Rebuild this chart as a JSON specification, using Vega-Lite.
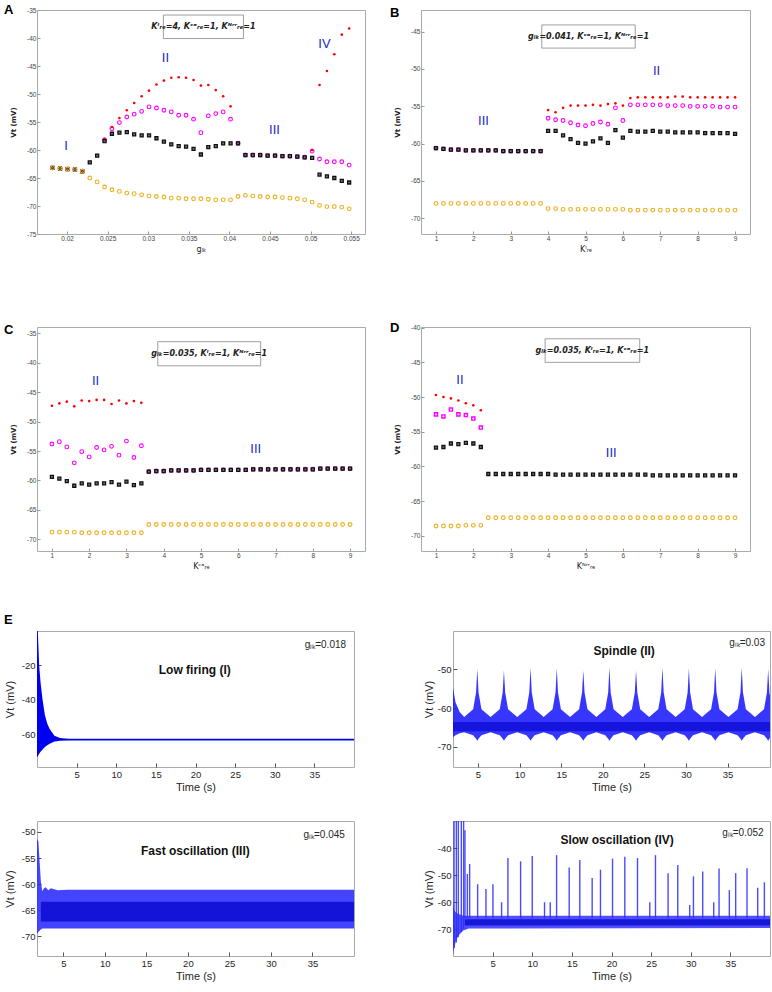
{
"$schema": "https://vega.github.io/schema/vega-lite/v6.json",
"padding": {"left": 3, "top": 3, "right": 0, "bottom": 0},
"background": "white",
"config": {
  "view": {"stroke": "#aaaaaa", "strokeWidth": 1},
  "axis": {"grid": false, "domain": false, "tickSize": -3, "tickColor": "#999999", "labelFont": "Liberation Sans", "labelFontSize": 6.5, "labelColor": "#444444", "labelPadding": 4, "labelFlush": false, "labelOverlap": false, "titleFont": "DejaVu Sans", "titleFontSize": 7, "titleFontWeight": "bold", "titleColor": "#222222", "titlePadding": 10, "labelExpr": "replace(datum.label, '−', '-')"},
  "title": {"anchor": "start", "frame": "group", "font": "Liberation Sans", "fontSize": 13, "fontWeight": "bold", "color": "#000000", "baseline": "bottom", "offset": -10},
  "text": {"font": "Liberation Sans"}
},
"spacing": 621,
"bounds": "flush",
"vconcat": [
 {"spacing": 317, "bounds": "flush", "vconcat": [
  {"spacing": 56, "bounds": "flush", "hconcat": [
   {"width": 328, "height": 224,
    "title": {"text": "A", "dx": -33},
    "encoding": {
      "x": {"field": "x", "type": "quantitative", "scale": {"domain": [0.0163, 0.0567], "nice": false, "zero": false}, "axis": {"title": "gₗₖ", "values": [0.02, 0.025, 0.03, 0.035, 0.04, 0.045, 0.05, 0.055], "format": "~g", "titleFontWeight": "normal", "titleFontSize": 8, "titlePadding": 4}},
      "y": {"field": "y", "type": "quantitative", "scale": {"domain": [-75, -35], "nice": false, "zero": false}, "axis": {"title": "Vt (mV)", "values": [-75, -70, -65, -60, -55, -50, -45, -40, -35]}}
    },
    "layer": [
     {"data": {"values": [{"x": 0.03187, "x2": 0.04173, "y": -35.9, "y2": -40.1}]}, "mark": {"type": "rect", "fill": "white", "stroke": "#888888", "strokeWidth": 0.8}, "encoding": {"x2": {"field": "x2"}, "y2": {"field": "y2"}}},
     {"data": {"values": [{"x": 0.0368, "y": -38.0, "label": "Kᴵᵣₑ=4, Kᶜᵃᵣₑ=1, Kᴺʳʳᵣₑ=1"}]}, "mark": {"type": "text", "font": "DejaVu Sans", "fontStyle": "italic", "fontWeight": "bold", "fontSize": 8, "color": "#222222"}, "encoding": {"text": {"field": "label"}}},
     {"data": {"values": [
       {"x": 0.01823, "max": -63.2, "mid": -63.2, "low": -63.2, "min": -63.2},
       {"x": 0.01914, "max": -63.3, "mid": -63.3, "low": -63.3, "min": -63.3},
       {"x": 0.02006, "max": -63.4, "mid": -63.4, "low": -63.4, "min": -63.4},
       {"x": 0.02097, "max": -63.5, "mid": -63.5, "low": -63.5, "min": -63.5},
       {"x": 0.02188, "max": -63.8, "mid": -63.8, "low": -63.8, "min": -63.8},
       {"x": 0.0228, "max": -62.2, "low": -62.2, "min": -65.0},
       {"x": 0.02371, "max": -61.0, "low": -61.0, "min": -65.7},
       {"x": 0.02462, "max": -58.0, "mid": -58.2, "low": -58.4, "min": -66.6},
       {"x": 0.02553, "max": -55.9, "mid": -56.2, "low": -57.1, "min": -67.1},
       {"x": 0.02645, "max": -54.3, "mid": -55.1, "low": -56.9, "min": -67.4},
       {"x": 0.02736, "max": -52.9, "mid": -54.1, "low": -56.8, "min": -67.7},
       {"x": 0.02827, "max": -51.6, "mid": -53.6, "low": -57.2, "min": -67.8},
       {"x": 0.02919, "max": -50.4, "mid": -53.1, "low": -57.4, "min": -68.0},
       {"x": 0.0301, "max": -49.4, "mid": -52.3, "low": -57.4, "min": -68.2},
       {"x": 0.03101, "max": -48.3, "mid": -52.5, "low": -57.9, "min": -68.3},
       {"x": 0.03193, "max": -47.6, "mid": -52.9, "low": -58.5, "min": -68.4},
       {"x": 0.03284, "max": -47.1, "mid": -53.2, "low": -59.0, "min": -68.6},
       {"x": 0.03375, "max": -47.0, "mid": -53.8, "low": -59.3, "min": -68.6},
       {"x": 0.03466, "max": -47.1, "mid": -53.8, "low": -59.4, "min": -68.7},
       {"x": 0.03558, "max": -47.5, "mid": -54.5, "low": -59.8, "min": -68.7},
       {"x": 0.03649, "max": -48.5, "mid": -56.9, "low": -60.8, "min": -68.7},
       {"x": 0.0374, "max": -48.4, "mid": -53.9, "low": -59.5, "min": -68.8},
       {"x": 0.03832, "max": -49.3, "mid": -53.5, "low": -59.3, "min": -68.9},
       {"x": 0.03923, "max": -50.4, "mid": -53.2, "low": -58.8, "min": -68.9},
       {"x": 0.04014, "max": -52.2, "mid": -54.5, "low": -58.8, "min": -68.9},
       {"x": 0.04106, "max": -58.8, "mid": -58.8, "low": -58.8, "min": -68.3},
       {"x": 0.04197, "max": -60.9, "mid": -60.9, "low": -60.9, "min": -68.1},
       {"x": 0.04288, "max": -60.9, "mid": -60.9, "low": -60.9, "min": -68.2},
       {"x": 0.04379, "max": -60.9, "mid": -60.9, "low": -60.9, "min": -68.3},
       {"x": 0.04471, "max": -61.0, "mid": -61.0, "low": -61.0, "min": -68.4},
       {"x": 0.04562, "max": -61.0, "mid": -61.0, "low": -61.0, "min": -68.4},
       {"x": 0.04653, "max": -61.1, "mid": -61.1, "low": -61.1, "min": -68.5},
       {"x": 0.04745, "max": -61.1, "mid": -61.1, "low": -61.1, "min": -68.6},
       {"x": 0.04836, "max": -61.2, "mid": -61.2, "low": -61.2, "min": -68.7},
       {"x": 0.04927, "max": -61.3, "mid": -61.3, "low": -61.3, "min": -68.9},
       {"x": 0.05019, "max": -60.0, "mid": -60.2, "low": -61.4, "min": -69.3},
       {"x": 0.0511, "max": -48.4, "mid": -61.6, "low": -64.4, "min": -69.9},
       {"x": 0.05201, "max": -45.9, "mid": -62.1, "low": -64.7, "min": -70.1},
       {"x": 0.05292, "max": -42.9, "mid": -62.1, "low": -65.0, "min": -70.1},
       {"x": 0.05384, "max": -39.4, "mid": -62.1, "low": -65.5, "min": -70.2},
       {"x": 0.05475, "max": -38.3, "mid": -62.7, "low": -65.8, "min": -70.5}
      ]},
      "transform": [{"fold": ["mid", "msq", "max", "low", "min"], "as": ["k", "y"]}, {"filter": "isValid(datum.y)"}],
      "layer": [
       {"transform": [{"filter": "datum.k == 'mid'"}], "mark": {"type": "point", "shape": "circle", "size": 14, "filled": false, "color": "#ff00ff", "strokeWidth": 1.1, "opacity": 1}},
       {"transform": [{"filter": "datum.k == 'msq'"}], "mark": {"type": "point", "shape": "square", "size": 10, "filled": false, "color": "#ff00ff", "strokeWidth": 1.4, "opacity": 1}},
       {"transform": [{"filter": "datum.k == 'max'"}], "mark": {"type": "circle", "size": 7, "color": "#ff0000", "opacity": 1}},
       {"transform": [{"filter": "datum.k == 'low'"}], "mark": {"type": "square", "size": 9, "fill": "#777777", "stroke": "#111111", "strokeWidth": 1.3, "opacity": 1}},
       {"transform": [{"filter": "datum.k == 'min'"}], "mark": {"type": "point", "shape": "circle", "size": 14, "filled": false, "color": "#edb120", "strokeWidth": 1.1, "opacity": 1}}
      ]
     },
     {"data": {"values": [{"x": 0.01988, "y": -59.3, "label": "I"}, {"x": 0.03212, "y": -43.5, "label": "II"}, {"x": 0.04555, "y": -56.5, "label": "III"}, {"x": 0.05171, "y": -41.1, "label": "IV"}]}, "mark": {"type": "text", "fontSize": 13, "color": "#2424c8"}, "encoding": {"text": {"field": "label"}}}
    ]
   },
   {"width": 329, "height": 224,
    "title": {"text": "B", "dx": -31},
    "encoding": {
      "x": {"field": "x", "type": "quantitative", "scale": {"domain": [0.6, 9.4], "nice": false, "zero": false}, "axis": {"title": "Kᴵᵣₑ", "values": [1, 2, 3, 4, 5, 6, 7, 8, 9], "titleFontWeight": "normal", "titleFontSize": 8, "titlePadding": 4}},
      "y": {"field": "y", "type": "quantitative", "scale": {"domain": [-72.1, -42.1], "nice": false, "zero": false}, "axis": {"title": "Vt (mV)", "values": [-70, -65, -60, -55, -50, -45]}}
    },
    "layer": [
     {"data": {"values": [{"x": 3.83, "x2": 6.33, "y": -44.1, "y2": -47.2}]}, "mark": {"type": "rect", "fill": "white", "stroke": "#888888", "strokeWidth": 0.8}, "encoding": {"x2": {"field": "x2"}, "y2": {"field": "y2"}}},
     {"data": {"values": [{"x": 5.08, "y": -45.65, "label": "gₗₖ=0.041, Kᶜᵃᵣₑ=1, Kᴺʳʳᵣₑ=1"}]}, "mark": {"type": "text", "font": "DejaVu Sans", "fontStyle": "italic", "fontWeight": "bold", "fontSize": 8, "color": "#222222"}, "encoding": {"text": {"field": "label"}}},
     {"data": {"values": [
       {"x": 1.0, "max": -60.6, "mid": -60.6, "low": -60.6, "min": -68.0},
       {"x": 1.2, "max": -60.7, "mid": -60.7, "low": -60.7, "min": -68.0},
       {"x": 1.4, "max": -60.8, "mid": -60.8, "low": -60.8, "min": -68.0},
       {"x": 1.6, "max": -60.8, "mid": -60.8, "low": -60.8, "min": -68.0},
       {"x": 1.8, "max": -60.9, "mid": -60.9, "low": -60.9, "min": -68.0},
       {"x": 2.0, "max": -60.9, "mid": -60.9, "low": -60.9, "min": -68.0},
       {"x": 2.2, "max": -60.9, "mid": -60.9, "low": -60.9, "min": -68.0},
       {"x": 2.4, "max": -60.9, "mid": -60.9, "low": -60.9, "min": -68.0},
       {"x": 2.6, "max": -60.9, "mid": -60.9, "low": -60.9, "min": -68.0},
       {"x": 2.8, "max": -61.0, "mid": -61.0, "low": -61.0, "min": -68.0},
       {"x": 3.0, "max": -61.0, "mid": -61.0, "low": -61.0, "min": -68.0},
       {"x": 3.2, "max": -61.0, "mid": -61.0, "low": -61.0, "min": -68.0},
       {"x": 3.4, "max": -61.0, "mid": -61.0, "low": -61.0, "min": -68.0},
       {"x": 3.6, "max": -61.0, "mid": -61.0, "low": -61.0, "min": -68.0},
       {"x": 3.8, "max": -61.0, "mid": -61.0, "low": -61.0, "min": -68.0},
       {"x": 4.0, "max": -55.5, "mid": -56.6, "low": -58.3, "min": -68.7},
       {"x": 4.2, "max": -55.8, "mid": -56.8, "low": -58.3, "min": -68.7},
       {"x": 4.4, "max": -55.2, "mid": -56.9, "low": -58.9, "min": -68.8},
       {"x": 4.6, "max": -54.9, "mid": -57.2, "low": -59.4, "min": -68.8},
       {"x": 4.8, "max": -54.9, "mid": -57.5, "low": -59.9, "min": -68.8},
       {"x": 5.0, "max": -54.9, "mid": -57.6, "low": -60.0, "min": -68.8},
       {"x": 5.2, "max": -54.8, "mid": -57.3, "low": -59.7, "min": -68.8},
       {"x": 5.4, "max": -54.9, "mid": -57.1, "low": -59.3, "min": -68.8},
       {"x": 5.6, "max": -54.7, "mid": -57.4, "low": -59.9, "min": -68.8},
       {"x": 5.8, "max": -54.6, "mid": -55.2, "low": -58.2, "min": -68.8},
       {"x": 6.0, "max": -54.9, "mid": -56.9, "low": -59.2, "min": -68.8},
       {"x": 6.2, "max": -53.9, "mid": -54.8, "low": -58.3, "min": -68.9},
       {"x": 6.4, "max": -53.8, "mid": -54.8, "low": -58.4, "min": -68.9},
       {"x": 6.6, "max": -53.8, "mid": -54.8, "low": -58.4, "min": -68.9},
       {"x": 6.8, "max": -53.8, "mid": -54.8, "low": -58.3, "min": -68.9},
       {"x": 7.0, "max": -53.8, "mid": -54.8, "low": -58.4, "min": -68.9},
       {"x": 7.2, "max": -53.8, "mid": -54.9, "low": -58.4, "min": -68.9},
       {"x": 7.4, "max": -53.7, "mid": -54.9, "low": -58.5, "min": -68.9},
       {"x": 7.6, "max": -53.7, "mid": -54.9, "low": -58.5, "min": -68.9},
       {"x": 7.8, "max": -53.8, "mid": -55.0, "low": -58.5, "min": -68.9},
       {"x": 8.0, "max": -53.8, "mid": -55.0, "low": -58.5, "min": -68.9},
       {"x": 8.2, "max": -53.8, "mid": -55.0, "low": -58.6, "min": -68.9},
       {"x": 8.4, "max": -53.8, "mid": -55.0, "low": -58.6, "min": -68.9},
       {"x": 8.6, "max": -53.8, "mid": -55.1, "low": -58.6, "min": -68.9},
       {"x": 8.8, "max": -53.8, "mid": -55.1, "low": -58.6, "min": -68.9},
       {"x": 9.0, "max": -53.8, "mid": -55.1, "low": -58.7, "min": -68.9}
      ]},
      "transform": [{"fold": ["mid", "msq", "max", "low", "min"], "as": ["k", "y"]}, {"filter": "isValid(datum.y)"}],
      "layer": [
       {"transform": [{"filter": "datum.k == 'mid'"}], "mark": {"type": "point", "shape": "circle", "size": 14, "filled": false, "color": "#ff00ff", "strokeWidth": 1.1, "opacity": 1}},
       {"transform": [{"filter": "datum.k == 'msq'"}], "mark": {"type": "point", "shape": "square", "size": 10, "filled": false, "color": "#ff00ff", "strokeWidth": 1.4, "opacity": 1}},
       {"transform": [{"filter": "datum.k == 'max'"}], "mark": {"type": "circle", "size": 7, "color": "#ff0000", "opacity": 1}},
       {"transform": [{"filter": "datum.k == 'low'"}], "mark": {"type": "square", "size": 9, "fill": "#777777", "stroke": "#111111", "strokeWidth": 1.3, "opacity": 1}},
       {"transform": [{"filter": "datum.k == 'min'"}], "mark": {"type": "point", "shape": "circle", "size": 14, "filled": false, "color": "#edb120", "strokeWidth": 1.1, "opacity": 1}}
      ]
     },
     {"data": {"values": [{"x": 2.27, "y": -56.9, "label": "III"}, {"x": 6.9, "y": -50.3, "label": "II"}]}, "mark": {"type": "text", "fontSize": 13, "color": "#2424c8"}, "encoding": {"text": {"field": "label"}}}
    ]
   }
  ]},
  {"spacing": 56, "bounds": "flush", "hconcat": [
   {"width": 328, "height": 224,
    "title": {"text": "C", "dx": -33},
    "encoding": {
      "x": {"field": "x", "type": "quantitative", "scale": {"domain": [0.6, 9.4], "nice": false, "zero": false}, "axis": {"title": "Kᶜᵃᵣₑ", "values": [1, 2, 3, 4, 5, 6, 7, 8, 9], "titleFontWeight": "normal", "titleFontSize": 8, "titlePadding": 4}},
      "y": {"field": "y", "type": "quantitative", "scale": {"domain": [-72, -33.9], "nice": false, "zero": false}, "axis": {"title": "Vt (mV)", "values": [-70, -65, -60, -55, -50, -45, -40, -35]}}
    },
    "layer": [
     {"data": {"values": [{"x": 3.84, "x2": 6.6, "y": -36.4, "y2": -40.5}]}, "mark": {"type": "rect", "fill": "white", "stroke": "#888888", "strokeWidth": 0.8}, "encoding": {"x2": {"field": "x2"}, "y2": {"field": "y2"}}},
     {"data": {"values": [{"x": 5.22, "y": -38.45, "label": "gₗₖ=0.035, Kᴵᵣₑ=1, Kᴺʳʳᵣₑ=1"}]}, "mark": {"type": "text", "font": "DejaVu Sans", "fontStyle": "italic", "fontWeight": "bold", "fontSize": 8, "color": "#222222"}, "encoding": {"text": {"field": "label"}}},
     {"data": {"values": [
       {"x": 1.0, "max": -47.3, "mid": -53.8, "low": -59.4, "min": -68.8},
       {"x": 1.2, "max": -46.9, "mid": -53.4, "low": -59.7, "min": -68.8},
       {"x": 1.4, "max": -46.6, "mid": -54.3, "low": -60.1, "min": -68.8},
       {"x": 1.6, "max": -47.4, "mid": -57.0, "low": -60.9, "min": -68.8},
       {"x": 1.8, "max": -46.4, "mid": -55.1, "low": -60.5, "min": -68.9},
       {"x": 2.0, "max": -46.5, "mid": -56.0, "low": -60.7, "min": -68.9},
       {"x": 2.2, "max": -46.3, "mid": -54.4, "low": -60.5, "min": -68.9},
       {"x": 2.4, "max": -46.3, "mid": -54.8, "low": -60.5, "min": -68.9},
       {"x": 2.6, "max": -47.0, "mid": -54.2, "low": -60.3, "min": -68.9},
       {"x": 2.8, "max": -46.4, "mid": -55.7, "low": -60.7, "min": -68.9},
       {"x": 3.0, "max": -46.9, "mid": -53.3, "low": -60.2, "min": -68.9},
       {"x": 3.2, "max": -46.5, "mid": -56.1, "low": -60.8, "min": -68.9},
       {"x": 3.4, "max": -46.8, "mid": -54.1, "low": -60.5, "min": -68.9},
       {"x": 3.6, "max": -58.5, "mid": -58.5, "low": -58.5, "min": -67.5},
       {"x": 3.8, "max": -58.4, "mid": -58.4, "low": -58.4, "min": -67.5},
       {"x": 4.0, "max": -58.4, "mid": -58.4, "low": -58.4, "min": -67.5},
       {"x": 4.2, "max": -58.3, "mid": -58.3, "low": -58.3, "min": -67.5},
       {"x": 4.4, "max": -58.3, "mid": -58.3, "low": -58.3, "min": -67.5},
       {"x": 4.6, "max": -58.3, "mid": -58.3, "low": -58.3, "min": -67.5},
       {"x": 4.8, "max": -58.3, "mid": -58.3, "low": -58.3, "min": -67.5},
       {"x": 5.0, "max": -58.2, "mid": -58.2, "low": -58.2, "min": -67.5},
       {"x": 5.2, "max": -58.2, "mid": -58.2, "low": -58.2, "min": -67.5},
       {"x": 5.4, "max": -58.2, "mid": -58.2, "low": -58.2, "min": -67.5},
       {"x": 5.6, "max": -58.2, "mid": -58.2, "low": -58.2, "min": -67.5},
       {"x": 5.8, "max": -58.2, "mid": -58.2, "low": -58.2, "min": -67.5},
       {"x": 6.0, "max": -58.2, "mid": -58.2, "low": -58.2, "min": -67.5},
       {"x": 6.2, "max": -58.2, "mid": -58.2, "low": -58.2, "min": -67.5},
       {"x": 6.4, "max": -58.1, "mid": -58.1, "low": -58.1, "min": -67.5},
       {"x": 6.6, "max": -58.1, "mid": -58.1, "low": -58.1, "min": -67.5},
       {"x": 6.8, "max": -58.1, "mid": -58.1, "low": -58.1, "min": -67.5},
       {"x": 7.0, "max": -58.1, "mid": -58.1, "low": -58.1, "min": -67.5},
       {"x": 7.2, "max": -58.1, "mid": -58.1, "low": -58.1, "min": -67.5},
       {"x": 7.4, "max": -58.1, "mid": -58.1, "low": -58.1, "min": -67.5},
       {"x": 7.6, "max": -58.1, "mid": -58.1, "low": -58.1, "min": -67.5},
       {"x": 7.8, "max": -58.1, "mid": -58.1, "low": -58.1, "min": -67.5},
       {"x": 8.0, "max": -58.1, "mid": -58.1, "low": -58.1, "min": -67.5},
       {"x": 8.2, "max": -58.0, "mid": -58.0, "low": -58.0, "min": -67.5},
       {"x": 8.4, "max": -58.0, "mid": -58.0, "low": -58.0, "min": -67.5},
       {"x": 8.6, "max": -58.0, "mid": -58.0, "low": -58.0, "min": -67.5},
       {"x": 8.8, "max": -58.0, "mid": -58.0, "low": -58.0, "min": -67.5},
       {"x": 9.0, "max": -58.0, "mid": -58.0, "low": -58.0, "min": -67.5}
      ]},
      "transform": [{"fold": ["mid", "msq", "max", "low", "min"], "as": ["k", "y"]}, {"filter": "isValid(datum.y)"}],
      "layer": [
       {"transform": [{"filter": "datum.k == 'mid'"}], "mark": {"type": "point", "shape": "circle", "size": 14, "filled": false, "color": "#ff00ff", "strokeWidth": 1.1, "opacity": 1}},
       {"transform": [{"filter": "datum.k == 'msq'"}], "mark": {"type": "point", "shape": "square", "size": 10, "filled": false, "color": "#ff00ff", "strokeWidth": 1.4, "opacity": 1}},
       {"transform": [{"filter": "datum.k == 'max'"}], "mark": {"type": "circle", "size": 7, "color": "#ff0000", "opacity": 1}},
       {"transform": [{"filter": "datum.k == 'low'"}], "mark": {"type": "square", "size": 9, "fill": "#777777", "stroke": "#111111", "strokeWidth": 1.3, "opacity": 1}},
       {"transform": [{"filter": "datum.k == 'min'"}], "mark": {"type": "point", "shape": "circle", "size": 14, "filled": false, "color": "#edb120", "strokeWidth": 1.1, "opacity": 1}}
      ]
     },
     {"data": {"values": [{"x": 2.17, "y": -43.0, "label": "II"}, {"x": 6.47, "y": -54.7, "label": "III"}]}, "mark": {"type": "text", "fontSize": 13, "color": "#2424c8"}, "encoding": {"text": {"field": "label"}}}
    ]
   },
   {"width": 329, "height": 224,
    "title": {"text": "D", "dx": -31},
    "encoding": {
      "x": {"field": "x", "type": "quantitative", "scale": {"domain": [0.6, 9.4], "nice": false, "zero": false}, "axis": {"title": "Kᴺʳʳᵣₑ", "values": [1, 2, 3, 4, 5, 6, 7, 8, 9], "titleFontWeight": "normal", "titleFontSize": 8, "titlePadding": 4}},
      "y": {"field": "y", "type": "quantitative", "scale": {"domain": [-72.2, -39.9], "nice": false, "zero": false}, "axis": {"title": "Vt (mV)", "values": [-70, -65, -60, -55, -50, -45, -40]}}
    },
    "layer": [
     {"data": {"values": [{"x": 3.92, "x2": 6.45, "y": -41.6, "y2": -45.0}]}, "mark": {"type": "rect", "fill": "white", "stroke": "#888888", "strokeWidth": 0.8}, "encoding": {"x2": {"field": "x2"}, "y2": {"field": "y2"}}},
     {"data": {"values": [{"x": 5.18, "y": -43.3, "label": "gₗₖ=0.035, Kᴵᵣₑ=1, Kᶜᵃᵣₑ=1"}]}, "mark": {"type": "text", "font": "DejaVu Sans", "fontStyle": "italic", "fontWeight": "bold", "fontSize": 8, "color": "#222222"}, "encoding": {"text": {"field": "label"}}},
     {"data": {"values": [
       {"x": 1.0, "max": -49.7, "msq": -52.5, "low": -57.3, "min": -68.6},
       {"x": 1.2, "max": -50.0, "msq": -52.8, "low": -57.2, "min": -68.6},
       {"x": 1.4, "max": -50.2, "msq": -51.8, "low": -56.7, "min": -68.6},
       {"x": 1.6, "max": -50.5, "msq": -52.5, "low": -56.8, "min": -68.6},
       {"x": 1.8, "max": -50.9, "msq": -52.6, "low": -56.6, "min": -68.5},
       {"x": 2.0, "max": -51.2, "msq": -53.1, "low": -56.7, "min": -68.5},
       {"x": 2.2, "max": -51.9, "msq": -54.4, "low": -57.2, "min": -68.5},
       {"x": 2.4, "low": -61.1, "min": -67.4},
       {"x": 2.6, "low": -61.1, "min": -67.4},
       {"x": 2.8, "low": -61.1, "min": -67.4},
       {"x": 3.0, "low": -61.1, "min": -67.4},
       {"x": 3.2, "low": -61.1, "min": -67.4},
       {"x": 3.4, "low": -61.1, "min": -67.4},
       {"x": 3.6, "low": -61.1, "min": -67.4},
       {"x": 3.8, "low": -61.1, "min": -67.4},
       {"x": 4.0, "low": -61.1, "min": -67.4},
       {"x": 4.2, "low": -61.2, "min": -67.4},
       {"x": 4.4, "low": -61.2, "min": -67.4},
       {"x": 4.6, "low": -61.2, "min": -67.4},
       {"x": 4.8, "low": -61.2, "min": -67.4},
       {"x": 5.0, "low": -61.2, "min": -67.4},
       {"x": 5.2, "low": -61.2, "min": -67.4},
       {"x": 5.4, "low": -61.2, "min": -67.4},
       {"x": 5.6, "low": -61.2, "min": -67.4},
       {"x": 5.8, "low": -61.2, "min": -67.4},
       {"x": 6.0, "low": -61.2, "min": -67.4},
       {"x": 6.2, "low": -61.2, "min": -67.4},
       {"x": 6.4, "low": -61.2, "min": -67.4},
       {"x": 6.6, "low": -61.2, "min": -67.4},
       {"x": 6.8, "low": -61.3, "min": -67.4},
       {"x": 7.0, "low": -61.3, "min": -67.4},
       {"x": 7.2, "low": -61.3, "min": -67.4},
       {"x": 7.4, "low": -61.3, "min": -67.4},
       {"x": 7.6, "low": -61.3, "min": -67.4},
       {"x": 7.8, "low": -61.3, "min": -67.4},
       {"x": 8.0, "low": -61.3, "min": -67.4},
       {"x": 8.2, "low": -61.3, "min": -67.4},
       {"x": 8.4, "low": -61.3, "min": -67.4},
       {"x": 8.6, "low": -61.3, "min": -67.4},
       {"x": 8.8, "low": -61.3, "min": -67.4},
       {"x": 9.0, "low": -61.3, "min": -67.4}
      ]},
      "transform": [{"fold": ["mid", "msq", "max", "low", "min"], "as": ["k", "y"]}, {"filter": "isValid(datum.y)"}],
      "layer": [
       {"transform": [{"filter": "datum.k == 'mid'"}], "mark": {"type": "point", "shape": "circle", "size": 14, "filled": false, "color": "#ff00ff", "strokeWidth": 1.1, "opacity": 1}},
       {"transform": [{"filter": "datum.k == 'msq'"}], "mark": {"type": "point", "shape": "square", "size": 10, "filled": false, "color": "#ff00ff", "strokeWidth": 1.4, "opacity": 1}},
       {"transform": [{"filter": "datum.k == 'max'"}], "mark": {"type": "circle", "size": 7, "color": "#ff0000", "opacity": 1}},
       {"transform": [{"filter": "datum.k == 'low'"}], "mark": {"type": "square", "size": 9, "fill": "#777777", "stroke": "#111111", "strokeWidth": 1.3, "opacity": 1}},
       {"transform": [{"filter": "datum.k == 'min'"}], "mark": {"type": "point", "shape": "circle", "size": 14, "filled": false, "color": "#edb120", "strokeWidth": 1.1, "opacity": 1}}
      ]
     },
     {"data": {"values": [{"x": 1.64, "y": -47.6, "label": "II"}, {"x": 5.69, "y": -58.1, "label": "III"}]}, "mark": {"type": "text", "fontSize": 13, "color": "#2424c8"}, "encoding": {"text": {"field": "label"}}}
    ]
   }
  ]}
 ]},
 {"spacing": 190, "bounds": "flush", "vconcat": [
  {"spacing": 99, "bounds": "flush", "hconcat": [
   {"width": 317, "height": 136,
    "title": {"text": "E", "dx": -33, "offset": 4},
    "encoding": {
      "x": {"field": "t", "type": "quantitative", "scale": {"domain": [0, 40], "nice": false, "zero": false}, "axis": {"title": "Time (s)", "values": [5, 10, 15, 20, 25, 30, 35], "tickSize": -4, "tickColor": "#555555", "labelFontSize": 9.5, "labelColor": "#262626", "labelPadding": 6, "titleFont": "Liberation Sans", "titleFontSize": 11, "titleFontWeight": "normal", "titleColor": "#262626", "titlePadding": 3}},
      "y": {"field": "y", "type": "quantitative", "scale": {"domain": [-79.2, 0], "nice": false, "zero": false}, "axis": {"title": "Vt (mV)", "values": [-20, -40, -60], "tickSize": -4, "tickColor": "#555555", "labelFontSize": 9.5, "labelColor": "#262626", "labelPadding": 6, "titleFont": "Liberation Sans", "titleFontSize": 11, "titleFontWeight": "normal", "titleColor": "#262626", "titlePadding": 6}}
    },
    "layer": [
     {"data": {"values": [
       {"t": 0, "y": 0, "y2": -73.5}, {"t": 0.1, "y": 0, "y2": -73.0}, {"t": 0.27, "y": -20, "y2": -71.5}, {"t": 0.45, "y": -30, "y2": -70.3},
       {"t": 0.7, "y": -40, "y2": -69.0}, {"t": 1.0, "y": -49, "y2": -67.6}, {"t": 1.3, "y": -54, "y2": -66.5}, {"t": 1.6, "y": -57, "y2": -65.6},
       {"t": 2.2, "y": -61, "y2": -64.3}, {"t": 2.9, "y": -62.3, "y2": -63.9}, {"t": 4.0, "y": -62.7, "y2": -63.8}, {"t": 40, "y": -62.7, "y2": -63.8}
      ]},
      "mark": {"type": "area", "color": "#0000f0", "clip": true},
      "encoding": {"y2": {"field": "y2"}}
     },
     {"data": {"values": [{"t": 19.9, "y": -22.9, "label": "Low firing (I)"}]}, "mark": {"type": "text", "fontSize": 12, "fontWeight": "bold", "color": "#111111"}, "encoding": {"text": {"field": "label"}}},
     {"data": {"values": [{"t": 39.0, "y": -8.0, "label": "gₗₖ=0.018"}]}, "mark": {"type": "text", "fontSize": 10, "align": "right", "color": "#262626"}, "encoding": {"text": {"field": "label"}}}
    ]
   },
   {"width": 317, "height": 136,
    "encoding": {
      "x": {"field": "t", "type": "quantitative", "scale": {"domain": [2, 40.1], "nice": false, "zero": false}, "axis": {"title": "Time (s)", "values": [5, 10, 15, 20, 25, 30, 35], "tickSize": -4, "tickColor": "#555555", "labelFontSize": 9.5, "labelColor": "#262626", "labelPadding": 6, "titleFont": "Liberation Sans", "titleFontSize": 11, "titleFontWeight": "normal", "titleColor": "#262626", "titlePadding": 3}},
      "y": {"field": "y", "type": "quantitative", "scale": {"domain": [-75.2, -40.1], "nice": false, "zero": false}, "axis": {"title": "Vt (mV)", "values": [-50, -60, -70], "tickSize": -4, "tickColor": "#555555", "labelFontSize": 9.5, "labelColor": "#262626", "labelPadding": 6, "titleFont": "Liberation Sans", "titleFontSize": 11, "titleFontWeight": "normal", "titleColor": "#262626", "titlePadding": 3}}
    },
    "layer": [
     {"data": {"values": [
       {"t": 2.0, "y": -54.7, "y2": -67.5}, {"t": 2.3, "y": -58.5, "y2": -67.0}, {"t": 2.8, "y": -61.0, "y2": -66.5}, {"t": 3.35, "y": -62.3, "y2": -66.2},
       {"t": 4.42, "y": -60.3, "y2": -67.0}, {"t": 4.77, "y": -56.0, "y2": -67.9}, {"t": 4.92, "y": -49.9, "y2": -68.4}, {"t": 5.07, "y": -56.0, "y2": -67.9}, {"t": 5.42, "y": -60.3, "y2": -67.0}, {"t": 6.52, "y": -62.3, "y2": -66.2},
       {"t": 7.62, "y": -60.3, "y2": -67.0}, {"t": 7.97, "y": -56.0, "y2": -67.9}, {"t": 8.12, "y": -50.3, "y2": -68.4}, {"t": 8.27, "y": -56.0, "y2": -67.9}, {"t": 8.62, "y": -60.3, "y2": -67.0}, {"t": 9.72, "y": -62.3, "y2": -66.2},
       {"t": 10.82, "y": -60.3, "y2": -67.0}, {"t": 11.17, "y": -56.0, "y2": -67.9}, {"t": 11.32, "y": -49.5, "y2": -68.4}, {"t": 11.47, "y": -56.0, "y2": -67.9}, {"t": 11.82, "y": -60.3, "y2": -67.0}, {"t": 12.9, "y": -62.3, "y2": -66.2},
       {"t": 13.97, "y": -60.3, "y2": -67.0}, {"t": 14.32, "y": -56.0, "y2": -67.9}, {"t": 14.47, "y": -49.7, "y2": -68.4}, {"t": 14.62, "y": -56.0, "y2": -67.9}, {"t": 14.97, "y": -60.3, "y2": -67.0}, {"t": 16.07, "y": -62.3, "y2": -66.2},
       {"t": 17.16, "y": -60.3, "y2": -67.0}, {"t": 17.51, "y": -56.0, "y2": -67.9}, {"t": 17.66, "y": -50.3, "y2": -68.4}, {"t": 17.81, "y": -56.0, "y2": -67.9}, {"t": 18.16, "y": -60.3, "y2": -67.0}, {"t": 19.23, "y": -62.3, "y2": -66.2},
       {"t": 20.3, "y": -60.3, "y2": -67.0}, {"t": 20.65, "y": -56.0, "y2": -67.9}, {"t": 20.8, "y": -49.5, "y2": -68.4}, {"t": 20.95, "y": -56.0, "y2": -67.9}, {"t": 21.3, "y": -60.3, "y2": -67.0}, {"t": 22.4, "y": -62.3, "y2": -66.2},
       {"t": 23.5, "y": -60.3, "y2": -67.0}, {"t": 23.85, "y": -56.0, "y2": -67.9}, {"t": 24.0, "y": -50.3, "y2": -68.4}, {"t": 24.15, "y": -56.0, "y2": -67.9}, {"t": 24.5, "y": -60.3, "y2": -67.0}, {"t": 25.58, "y": -62.3, "y2": -66.2},
       {"t": 26.67, "y": -60.3, "y2": -67.0}, {"t": 27.02, "y": -56.0, "y2": -67.9}, {"t": 27.17, "y": -49.6, "y2": -68.4}, {"t": 27.32, "y": -56.0, "y2": -67.9}, {"t": 27.67, "y": -60.3, "y2": -67.0}, {"t": 28.76, "y": -62.3, "y2": -66.2},
       {"t": 29.85, "y": -60.3, "y2": -67.0}, {"t": 30.2, "y": -56.0, "y2": -67.9}, {"t": 30.35, "y": -49.7, "y2": -68.4}, {"t": 30.5, "y": -56.0, "y2": -67.9}, {"t": 30.85, "y": -60.3, "y2": -67.0}, {"t": 31.93, "y": -62.3, "y2": -66.2},
       {"t": 33.02, "y": -60.3, "y2": -67.0}, {"t": 33.37, "y": -56.0, "y2": -67.9}, {"t": 33.52, "y": -49.7, "y2": -68.4}, {"t": 33.67, "y": -56.0, "y2": -67.9}, {"t": 34.02, "y": -60.3, "y2": -67.0}, {"t": 35.11, "y": -62.3, "y2": -66.2},
       {"t": 36.2, "y": -60.3, "y2": -67.0}, {"t": 36.55, "y": -56.0, "y2": -67.9}, {"t": 36.7, "y": -49.5, "y2": -68.4}, {"t": 36.85, "y": -56.0, "y2": -67.9}, {"t": 37.2, "y": -60.3, "y2": -67.0}, {"t": 38.29, "y": -62.3, "y2": -66.2},
       {"t": 39.38, "y": -60.3, "y2": -67.0}, {"t": 39.73, "y": -56.0, "y2": -67.9}, {"t": 39.88, "y": -49.9, "y2": -68.4}, {"t": 40.03, "y": -56.0, "y2": -67.9}, {"t": 40.38, "y": -60.3, "y2": -67.0}
      ]},
      "mark": {"type": "area", "color": "#2020ff", "opacity": 0.9, "clip": true},
      "encoding": {"y2": {"field": "y2"}}
     },
     {"data": {"values": [{"t": 2.0, "y": -63.6, "y2": -66.0}, {"t": 40.1, "y": -63.6, "y2": -66.0}]}, "mark": {"type": "area", "color": "#0000c8", "opacity": 0.6, "clip": true}, "encoding": {"y2": {"field": "y2"}}},
     {"data": {"values": [{"t": 22.57, "y": -45.3, "label": "Spindle (II)"}]}, "mark": {"type": "text", "fontSize": 12, "fontWeight": "bold", "color": "#111111"}, "encoding": {"text": {"field": "label"}}},
     {"data": {"values": [{"t": 39.5, "y": -43.2, "label": "gₗₖ=0.03"}]}, "mark": {"type": "text", "fontSize": 10, "align": "right", "color": "#262626"}, "encoding": {"text": {"field": "label"}}}
    ]
   }
  ]},
  {"spacing": 99, "bounds": "flush", "hconcat": [
   {"width": 317, "height": 135,
    "encoding": {
      "x": {"field": "t", "type": "quantitative", "scale": {"domain": [1.83, 40], "nice": false, "zero": false}, "axis": {"title": "Time (s)", "values": [5, 10, 15, 20, 25, 30, 35], "tickSize": -4, "tickColor": "#555555", "labelFontSize": 9.5, "labelColor": "#262626", "labelPadding": 6, "titleFont": "Liberation Sans", "titleFontSize": 11, "titleFontWeight": "normal", "titleColor": "#262626", "titlePadding": 3}},
      "y": {"field": "y", "type": "quantitative", "scale": {"domain": [-73.8, -47.9], "nice": false, "zero": false}, "axis": {"title": "Vt (mV)", "values": [-50, -55, -60, -65, -70], "tickSize": -4, "tickColor": "#555555", "labelFontSize": 9.5, "labelColor": "#262626", "labelPadding": 6, "titleFont": "Liberation Sans", "titleFontSize": 11, "titleFontWeight": "normal", "titleColor": "#262626", "titlePadding": 6}}
    },
    "layer": [
     {"data": {"values": [
       {"t": 1.83, "y": -51.3, "y2": -69.6}, {"t": 2.0, "y": -51.9, "y2": -69.2}, {"t": 2.15, "y": -55.8, "y2": -68.9}, {"t": 2.3, "y": -59.6, "y2": -68.7},
       {"t": 2.47, "y": -61.4, "y2": -68.5}, {"t": 2.63, "y": -60.9, "y2": -68.5}, {"t": 2.87, "y": -60.6, "y2": -68.5}, {"t": 3.2, "y": -61.2, "y2": -68.5},
       {"t": 3.5, "y": -60.8, "y2": -68.5}, {"t": 3.9, "y": -61.0, "y2": -68.5}, {"t": 4.3, "y": -61.2, "y2": -68.5}, {"t": 5.5, "y": -61.1, "y2": -68.5}, {"t": 40, "y": -61.1, "y2": -68.5}
      ]},
      "mark": {"type": "area", "color": "#3030ff", "opacity": 0.9, "clip": true},
      "encoding": {"y2": {"field": "y2"}}
     },
     {"data": {"values": [{"t": 2.3, "y": -63.4, "y2": -67.2}, {"t": 40, "y": -63.4, "y2": -67.2}]}, "mark": {"type": "area", "color": "#0000c8", "opacity": 0.7, "clip": true}, "encoding": {"y2": {"field": "y2"}}},
     {"data": {"values": [{"t": 20.9, "y": -53.7, "label": "Fast oscillation (III)"}]}, "mark": {"type": "text", "fontSize": 12, "fontWeight": "bold", "color": "#111111"}, "encoding": {"text": {"field": "label"}}},
     {"data": {"values": [{"t": 38.9, "y": -50.5, "label": "gₗₖ=0.045"}]}, "mark": {"type": "text", "fontSize": 10, "align": "right", "color": "#262626"}, "encoding": {"text": {"field": "label"}}}
    ]
   },
   {"width": 317, "height": 135,
    "encoding": {
      "x": {"field": "t", "type": "quantitative", "scale": {"domain": [0, 40], "nice": false, "zero": false}, "axis": {"title": "Time (s)", "values": [5, 10, 15, 20, 25, 30, 35], "tickSize": -4, "tickColor": "#555555", "labelFontSize": 9.5, "labelColor": "#262626", "labelPadding": 6, "titleFont": "Liberation Sans", "titleFontSize": 11, "titleFontWeight": "normal", "titleColor": "#262626", "titlePadding": 3}},
      "y": {"field": "y", "type": "quantitative", "scale": {"domain": [-80, -29.8], "nice": false, "zero": false}, "axis": {"title": "Vt (mV)", "values": [-40, -50, -60, -70], "tickSize": -4, "tickColor": "#555555", "labelFontSize": 9.5, "labelColor": "#262626", "labelPadding": 6, "titleFont": "Liberation Sans", "titleFontSize": 11, "titleFontWeight": "normal", "titleColor": "#262626", "titlePadding": 3}}
    },
    "layer": [
     {"data": {"values": [
       {"t": 0, "y": -60, "y2": -79.5}, {"t": 0.15, "y": -63, "y2": -77}, {"t": 0.4, "y": -64, "y2": -74}, {"t": 0.8, "y": -64.5, "y2": -72},
       {"t": 1.3, "y": -65, "y2": -70.5}, {"t": 2.0, "y": -65, "y2": -69.8}, {"t": 40, "y": -65, "y2": -69.6}
      ]},
      "mark": {"type": "area", "color": "#3030ff", "opacity": 0.85, "clip": true},
      "encoding": {"y2": {"field": "y2"}}
     },
     {"data": {"values": [{"t": 1.5, "y": -66.3, "y2": -68.7}, {"t": 40, "y": -66.3, "y2": -68.7}]}, "mark": {"type": "area", "color": "#0000c8", "opacity": 0.7, "clip": true}, "encoding": {"y2": {"field": "y2"}}},
     {"data": {"values": [
       {"t": 0.13, "y": -25, "y2": -77}, {"t": 0.42, "y": -25, "y2": -75}, {"t": 0.67, "y": -25, "y2": -73}, {"t": 1.05, "y": -25, "y2": -71}, {"t": 1.34, "y": -28, "y2": -70},
       {"t": 1.51, "y": -33.2, "y2": -66}, {"t": 1.81, "y": -49.5, "y2": -66}, {"t": 2.1, "y": -45.8, "y2": -66}, {"t": 3.11, "y": -53.3, "y2": -66},
       {"t": 4.16, "y": -55.1, "y2": -66}, {"t": 5.04, "y": -53.3, "y2": -66}, {"t": 6.13, "y": -60.0, "y2": -66}, {"t": 6.93, "y": -43.6, "y2": -66},
       {"t": 8.53, "y": -44.8, "y2": -66}, {"t": 10.0, "y": -42.8, "y2": -66}, {"t": 11.55, "y": -60.0, "y2": -66}, {"t": 12.27, "y": -60.0, "y2": -66},
       {"t": 13.07, "y": -42.5, "y2": -66}, {"t": 14.66, "y": -47.1, "y2": -66}, {"t": 16.0, "y": -44.3, "y2": -66}, {"t": 17.56, "y": -51.0, "y2": -66},
       {"t": 18.61, "y": -47.9, "y2": -66}, {"t": 20.13, "y": -43.8, "y2": -66}, {"t": 21.68, "y": -43.1, "y2": -66}, {"t": 23.28, "y": -43.6, "y2": -66},
       {"t": 24.83, "y": -60.0, "y2": -66}, {"t": 25.55, "y": -42.5, "y2": -66}, {"t": 27.14, "y": -49.2, "y2": -66}, {"t": 28.36, "y": -46.2, "y2": -66},
       {"t": 29.87, "y": -61.0, "y2": -66}, {"t": 30.34, "y": -50.4, "y2": -66}, {"t": 31.51, "y": -48.6, "y2": -66}, {"t": 32.9, "y": -60.0, "y2": -66},
       {"t": 33.57, "y": -47.5, "y2": -66}, {"t": 34.87, "y": -55.5, "y2": -66}, {"t": 35.67, "y": -49.2, "y2": -66}, {"t": 37.1, "y": -47.4, "y2": -66},
       {"t": 38.45, "y": -54.6, "y2": -66}, {"t": 39.29, "y": -52.6, "y2": -66}
      ]},
      "mark": {"type": "rule", "color": "#2a2aff", "strokeWidth": 1.4, "opacity": 0.85, "clip": true},
      "encoding": {"y2": {"field": "y2"}}
     },
     {"data": {"values": [{"t": 20.7, "y": -36.8, "label": "Slow oscillation (IV)"}]}, "mark": {"type": "text", "fontSize": 12, "fontWeight": "bold", "color": "#111111"}, "encoding": {"text": {"field": "label"}}},
     {"data": {"values": [{"t": 39.2, "y": -34.3, "label": "gₗₖ=0.052"}]}, "mark": {"type": "text", "fontSize": 10, "align": "right", "color": "#262626"}, "encoding": {"text": {"field": "label"}}}
    ]
   }
  ]}
 ]}
]
}
